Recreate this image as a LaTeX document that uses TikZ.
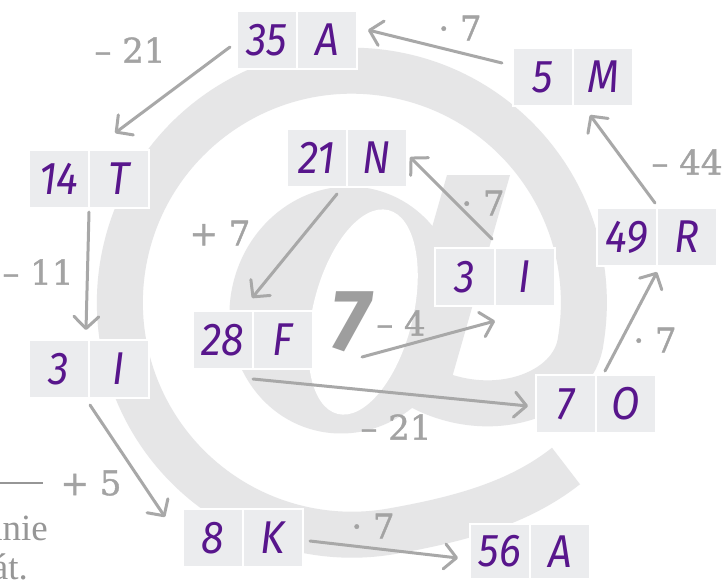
\documentclass[tikz,border=0pt]{standalone}
\usepackage{fontspec}
\usetikzlibrary{arrows.meta,calc}
\newfontfamily\handfont{Fira Sans}[FakeStretch=0.9]
\newfontfamily\labfont{DejaVu Serif}[FakeBold=1.2]
\newfontfamily\sevenfont{Fira Sans}
\newfontfamily\pagefont{Liberation Serif}
\definecolor{atgray}{RGB}{230,230,231}
\definecolor{boxfill}{RGB}{235,236,238}
\definecolor{handink}{RGB}{88,22,140}
\definecolor{arrgray}{RGB}{168,168,168}
\definecolor{labgray}{RGB}{163,163,163}
\definecolor{sevengray}{RGB}{158,158,158}
\definecolor{pagegray}{RGB}{150,150,150}
\tikzset{
  cell/.style={fill=boxfill, draw=white, line width=1.5pt, minimum width=60pt,
    minimum height=58pt, inner sep=0pt, outer sep=0pt, text=handink,
    font=\handfont\itshape\fontsize{46}{50}\selectfont},
  lab/.style={text=labgray, inner sep=0pt, font=\labfont\fontsize{34}{38}\selectfont},
  seven/.style={text=sevengray, inner sep=0pt, font=\sevenfont\bfseries\itshape\fontsize{87}{90}\selectfont},
  pagetext/.style={text=pagegray, inner sep=0pt, font=\pagefont\fontsize{37}{40}\selectfont},
  arr/.style={draw=arrgray, line width=3pt, line cap=round,
    -{Straight Barb[length=12pt,width=25pt,round]}}
}
\begin{document}
\begin{tikzpicture}[x=1pt,y=-1pt]
\useasboundingbox (0,0) rectangle (723,579);
\fill[white] (0,0) rectangle (723,579);
% background @
\fill[atgray, rotate around={76:(345,310)}] (345,310) ellipse [x radius=124, y radius=115];
\fill[atgray] (447,175) -- (510,175) -- (447,395) -- (384,395) -- cycle;
\draw[atgray, line width=46pt] (418,385) .. controls (490,425) and (575,395) .. (581,339)
  arc[start angle=9, end angle=-280, radius=232]
  .. controls (461,519) and (519,503) .. (566,466);
\fill[white, rotate around={76:(363,312)}] (363,312) ellipse [x radius=105, y radius=50];
% page remnants
\draw[pagegray, line width=1.5pt] (0,483) -- (43,483);
\node[pagetext, anchor=base east] (pg1) at (48,540) {anie};
\node[pagetext, anchor=base east] (pg2) at (28,579) {át.};
% cells
\node[cell] (n35) at (267,40) {35};
\node[cell] (l35) at (327,40) {A};
\node[cell] (n5) at (543,77) {5};
\node[cell] (l5) at (603,77) {M};
\node[cell] (n14) at (59,179) {14};
\node[cell] (l14) at (119,179) {T};
\node[cell] (n21) at (317,158) {21};
\node[cell] (l21) at (377,158) {N};
\node[cell] (n3b) at (465,277) {3};
\node[cell] (l3b) at (525,277) {I};
\node[cell] (n49) at (627,237) {49};
\node[cell] (l49) at (687,237) {R};
\node[cell] (n28) at (223,340) {28};
\node[cell] (l28) at (283,340) {F};
\node[cell] (n3a) at (59,369) {3};
\node[cell] (l3a) at (119,369) {I};
\node[cell] (n7) at (566,404) {7};
\node[cell] (l7) at (626,404) {O};
\node[cell] (n8) at (213,538) {8};
\node[cell] (l8) at (273,538) {K};
\node[cell, minimum height=55pt] (n56) at (500,551.5) {56};
\node[cell, minimum height=55pt] (l56) at (560,551.5) {A};
\node[seven] (s7) at (350,322) {7};
% labels
\node[lab] (t1) at (460,28) {· 7};
\node[lab] (t2) at (130,50) {– 21};
\node[lab] (t3) at (38,272) {– 11};
\node[lab] (t4) at (91,483) {+ 5};
\node[lab] (t5) at (373,526) {· 7};
\node[lab] (t6) at (655,340) {· 7};
\node[lab] (t7) at (687,162) {– 44};
\node[lab] (t8) at (483,203) {· 7};
\node[lab] (t9) at (220,233) {+ 7};
\node[lab] (t10) at (401,323) {– 4};
\node[lab] (t11) at (396,427) {– 21};
% arrows
\draw[arr] ($(n5.west)+(-11,-14)$) -- ($(l35.east)+(11,-10)$);
\draw[arr] ($(n35.west)+(-7,7)$) -- ($(l14.north)+(-4,-17)$);
\draw[arr] ($(n14.south east)+(0,4)$) -- ($(l3a.north west)+(-3,-10)$);
\draw[arr] ($(l3a.south west)+(1,7)$) -- ($(n8.west)+(-18,-21)$);
\draw[arr] ($(l8.east)+(7,3)$) -- ($(n56.west)+(-12,6.5)$);
\draw[arr] ($(l7.north west)+(9,-4)$) -- ($(l49.south west)+(0,6)$);
\draw[arr] ($(l49.north west)+(-2,-5)$) -- ($(l5.south west)+(17,9)$);
\draw[arr] ($(l3b.north west)+(-3,-9)$) -- ($(l21.east)+(3,-1)$);
\draw[arr] ($(n21.south east)+(-10,7)$) -- ($(l28.north west)+(-1,-13)$);
\draw[arr] ($(s7.center)+(12,35)$) -- ($(l3b.south west)+(0,15)$);
\draw[arr] ($(l28.south west)+(0,10)$) -- ($(n7.west)+(-8,2)$);
\end{tikzpicture}
\end{document}
